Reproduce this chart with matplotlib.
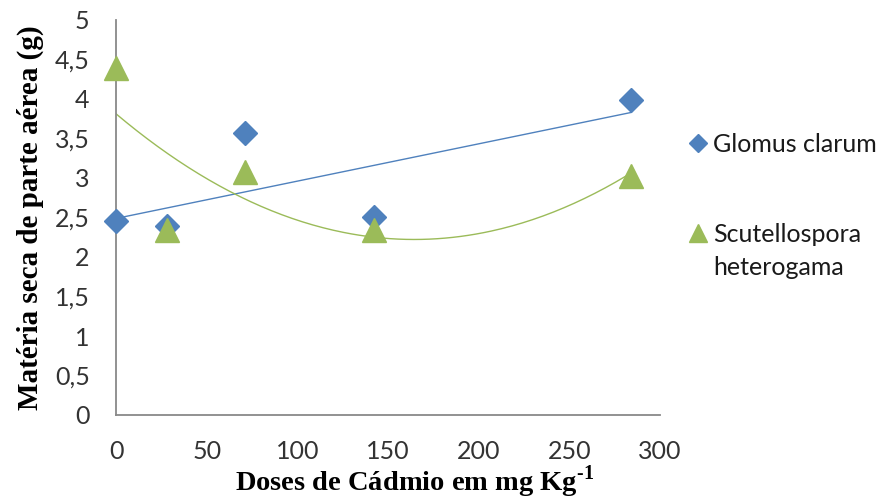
import numpy as np
import matplotlib
matplotlib.use("Agg")
import matplotlib.pyplot as plt
from matplotlib.ticker import FuncFormatter

# --- data ---
doses = [0, 28, 71, 142, 284]
glomus = [2.46, 2.39, 3.57, 2.51, 3.99]
scutello = [4.39, 2.34, 3.08, 2.34, 3.03]

series_names = ["Glomus clarum", "Scutellospora"]
name_second_line = "heterogama"

BLUE = "#4F81BD"
GREEN = "#9BBB59"
AXIS_GRAY = "#898989"

plt.rcParams["mathtext.fontset"] = "custom"
plt.rcParams["mathtext.rm"] = "Liberation Serif:bold"

fig = plt.figure(figsize=(8.79, 5.0), dpi=100)
ax = fig.add_axes([0.132, 0.17, 0.619, 0.79])

# trendlines: linear for Glomus, 2nd order polynomial for Scutellospora
xs = np.linspace(min(doses), max(doses), 200)
lin = np.polyfit(doses, glomus, 1)
quad = np.polyfit(doses, scutello, 2)
ax.plot(xs, np.polyval(lin, xs), color=BLUE, lw=1.0, zorder=2)
ax.plot(xs, np.polyval(quad, xs), color=GREEN, lw=1.0, zorder=2)

ax.plot(doses, glomus, linestyle="none", marker="D", markersize=12,
        color=BLUE, label=series_names[0], zorder=3, clip_on=False)
ax.plot(doses, scutello, linestyle="none", marker="^", markersize=17,
        color=GREEN, label=series_names[1], zorder=3, clip_on=False)

ax.set_xlim(0, 300)
ax.set_ylim(0, 5)
ax.set_xticks(range(0, 301, 50))
ax.set_yticks(np.arange(0, 5.01, 0.5))
ax.yaxis.set_major_formatter(FuncFormatter(lambda v, p: f"{v:g}".replace(".", ",")))

for side in ["top", "right"]:
    ax.spines[side].set_visible(False)
for side in ["left", "bottom"]:
    ax.spines[side].set_color(AXIS_GRAY)
    ax.spines[side].set_linewidth(1.3)

ax.tick_params(axis="both", length=0, labelsize=18, labelcolor="#333333")
ax.tick_params(axis="y", pad=19)
ax.tick_params(axis="x", pad=18)
for lbl in ax.get_xticklabels() + ax.get_yticklabels():
    lbl.set_fontfamily("Lato")

ax.set_xlabel(r"Doses de Cádmio em mg Kg$^{\text{-1}}$", fontsize=20.5, fontweight="bold",
              fontfamily="Liberation Serif", labelpad=0)
ax.xaxis.label.set_x(0.548)
ax.set_ylabel("Matéria seca de parte aérea (g)", fontsize=21, fontweight="bold",
              fontfamily="Liberation Serif", labelpad=8)

leg = ax.legend(loc="upper left", bbox_to_anchor=(0.783, 0.735),
                bbox_transform=fig.transFigure, frameon=False,
                prop={"family": "Lato", "size": 18}, labelspacing=2.7,
                handlelength=0.8, handletextpad=0.2, markerscale=0.75,
                borderpad=0, borderaxespad=0)
for t in leg.get_texts():
    t.set_color("#1a1a1a")
fig.text(0.811, 0.465, name_second_line, fontsize=18, family="Lato",
         color="#1a1a1a", va="center", ha="left")

fig.savefig("out.png", dpi=100)
